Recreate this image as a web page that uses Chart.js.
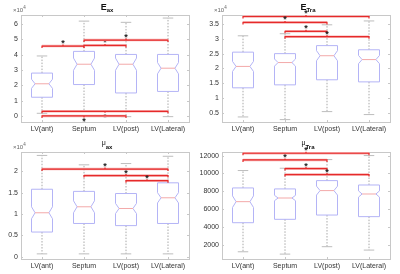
<!DOCTYPE html>
<html>
<head>
<meta charset="utf-8">
<script src="https://cdn.jsdelivr.net/npm/chart.js@4"></script>
<style>
  html, body { margin: 0; padding: 0; background: #fff; }
  #wrap { position: relative; width: 400px; height: 274px; }
  .cell { position: absolute; width: 200px; height: 137px; }
</style>
</head>
<body>
<div id="wrap">
  <div class="cell" style="left:0;top:0"><canvas id="c1" width="200" height="137"></canvas></div>
  <div class="cell" style="left:200px;top:0"><canvas id="c2" width="200" height="137"></canvas></div>
  <div class="cell" style="left:0;top:137px"><canvas id="c3" width="200" height="137"></canvas></div>
  <div class="cell" style="left:200px;top:137px"><canvas id="c4" width="200" height="137"></canvas></div>
</div>
<script>
const groups = ['LV(ant)', 'Septum', 'LV(post)', 'LV(Lateral)'];

/* ---- E_ax (x10^4) ---- */
const eaxLow   = [0.17, 0.35, -0.05, -0.05];
const eaxQ1    = [1.22, 2.05, 1.50, 1.60];
const eaxMed   = [2.10, 3.38, 3.38, 3.12];
const eaxQ3    = [2.80, 4.22, 4.02, 4.02];
const eaxHigh  = [3.92, 6.20, 6.12, 6.40];
const eaxNotch = [0.30, 0.40, 0.40, 0.37];
const eaxTicks = [0, 1, 2, 3, 4, 5, 6];
// [from, to, y, star side]
const eaxSig = [[0, 1, 4.57, 1], [1, 2, 4.61, 1], [1, 3, 4.96, 1], [0, 3, 0.30, -1], [0, 2, 0.0, -1]];

/* ---- E_Tra (x10^4) ---- */
const etrLow   = [0.37, 0.28, 0.55, 0.45];
const etrQ1    = [1.35, 1.45, 1.62, 1.55];
const etrMed   = [2.07, 2.20, 2.43, 2.30];
const etrQ3    = [2.55, 2.50, 2.77, 2.63];
const etrHigh  = [3.10, 3.17, 3.47, 3.60];
const etrNotch = [0.17, 0.12, 0.17, 0.14];
const etrTicks = [0.5, 1, 1.5, 2, 2.5, 3, 3.5];
const etrSig = [[0, 3, 3.75, 1], [0, 2, 3.55, 1], [1, 2, 3.25, 1], [1, 3, 3.07, 1]];

/* ---- mu_ax (x10^4) ---- */
const muaLow   = [0.07, 0.07, 0.07, 0.07];
const muaQ1    = [0.58, 0.78, 0.73, 0.78];
const muaMed   = [1.03, 1.17, 1.13, 1.38];
const muaQ3    = [1.58, 1.53, 1.48, 1.73];
const muaHigh  = [2.37, 2.15, 2.18, 2.35];
const muaNotch = [0.14, 0.14, 0.12, 0.12];
const muaTicks = [0, 0.5, 1, 1.5, 2];
const muaSig = [[0, 3, 2.05, 1], [1, 3, 1.90, 1], [2, 3, 1.78, 1]];

/* ---- mu_Tra ---- */
const mutLow   = [1210, 950, 1780, 1400];
const mutQ1    = [4470, 4850, 5330, 5150];
const mutMed   = [6830, 7240, 8070, 7690];
const mutQ3    = [8370, 8260, 9190, 8700];
const mutHigh  = [10320, 10580, 11550, 12000];
const mutNotch = [650, 300, 500, 350];
const mutTicks = [2000, 4000, 6000, 8000, 10000, 12000];
const mutSig = [[0, 3, 12260, 1], [0, 2, 11510, 1], [1, 2, 10540, 1], [1, 3, 9870, 1]];

const FONT = "'Liberation Sans', Arial, sans-serif";

/* draws frame, inward ticks, notched boxes, brackets, title */
const boxPlugin = {
  id: 'boxes',
  afterDraw(chart) {
    const o = chart.options.plugins.boxes;
    const ctx = chart.ctx;
    const x = chart.scales.x, y = chart.scales.y;
    const a = chart.chartArea;
    ctx.save();

    // frame + inward ticks
    ctx.strokeStyle = '#c8c8c8';
    ctx.lineWidth = 1;
    ctx.strokeRect(Math.round(a.left) + 0.5, Math.round(a.top) + 0.5, Math.round(a.right - a.left), Math.round(a.bottom - a.top));
    ctx.beginPath();
    y.ticks.forEach(t => {
      const py = Math.round(y.getPixelForValue(t.value)) + 0.5;
      ctx.moveTo(a.left, py); ctx.lineTo(a.left + 2, py);
      ctx.moveTo(a.right, py); ctx.lineTo(a.right - 2, py);
    });
    x.ticks.forEach(t => {
      const px = Math.round(x.getPixelForValue(t.value)) + 0.5;
      ctx.moveTo(px, a.bottom); ctx.lineTo(px, a.bottom - 2);
      ctx.moveTo(px, a.top); ctx.lineTo(px, a.top + 2);
    });
    ctx.stroke();

    // boxes
    for (let i = 0; i < groups.length; i++) {
      const xc = x.getPixelForValue(i + 1);
      const hw = x.getPixelForValue(i + 1.25) - xc;
      const nw = hw * 0.66;
      const q1 = y.getPixelForValue(o.q1[i]), q3 = y.getPixelForValue(o.q3[i]);
      const md = y.getPixelForValue(o.med[i]);
      const nt = y.getPixelForValue(o.med[i] + o.notch[i]);
      const nb = y.getPixelForValue(o.med[i] - o.notch[i]);
      const hi = y.getPixelForValue(o.high[i]), lo = y.getPixelForValue(o.low[i]);

      // whiskers
      ctx.strokeStyle = '#a8a8a8';
      ctx.setLineDash([1.5, 1.5]);
      ctx.beginPath();
      ctx.moveTo(xc, q3); ctx.lineTo(xc, hi);
      ctx.moveTo(xc, q1); ctx.lineTo(xc, lo);
      ctx.stroke();
      ctx.setLineDash([]);
      ctx.strokeStyle = '#bdbdbd';
      ctx.beginPath();
      ctx.moveTo(xc - hw / 2, hi); ctx.lineTo(xc + hw / 2, hi);
      ctx.moveTo(xc - hw / 2, lo); ctx.lineTo(xc + hw / 2, lo);
      ctx.stroke();

      // notched box
      ctx.strokeStyle = '#b4b4f6';
      ctx.beginPath();
      ctx.moveTo(xc - hw, q3); ctx.lineTo(xc + hw, q3);
      ctx.lineTo(xc + hw, nt); ctx.lineTo(xc + nw, md); ctx.lineTo(xc + hw, nb);
      ctx.lineTo(xc + hw, q1); ctx.lineTo(xc - hw, q1);
      ctx.lineTo(xc - hw, nb); ctx.lineTo(xc - nw, md); ctx.lineTo(xc - hw, nt);
      ctx.closePath();
      ctx.stroke();

      // median
      ctx.strokeStyle = '#f3a9a9';
      ctx.beginPath();
      ctx.moveTo(xc - nw, md); ctx.lineTo(xc + nw, md);
      ctx.stroke();
    }

    // significance brackets
    o.sig.forEach(s => {
      const x1 = x.getPixelForValue(s[0] + 1), x2 = x.getPixelForValue(s[1] + 1);
      const py = y.getPixelForValue(s[2]);
      const xm = x.getPixelForValue((s[0] + s[1]) / 2 + 1);
      ctx.strokeStyle = '#f7b0b0';
      ctx.lineWidth = 2.5;
      ctx.beginPath();
      ctx.moveTo(x1, py); ctx.lineTo(x2, py);
      ctx.stroke();
      ctx.strokeStyle = '#e62a2a';
      ctx.lineWidth = 1.2;
      ctx.beginPath();
      ctx.moveTo(x1, py + 2); ctx.lineTo(x1, py); ctx.lineTo(x2, py); ctx.lineTo(x2, py + 2);
      ctx.moveTo(xm, py); ctx.lineTo(xm, py - 1.5 * s[3]);
      ctx.stroke();
      ctx.fillStyle = '#222';
      ctx.font = 'bold 9px ' + FONT;
      ctx.textAlign = 'center';
      ctx.textBaseline = 'middle';
      ctx.fillText('*', xm, s[3] > 0 ? py - 2.5 : py + 6);
    });

    // title with subscript
    const cx = (a.left + a.right) / 2 + 2;
    const by = a.top - 5;
    ctx.fillStyle = '#111';
    ctx.textBaseline = 'alphabetic';
    ctx.textAlign = 'left';
    ctx.font = o.mainFont;
    const w1 = ctx.measureText(o.main).width;
    ctx.font = 'bold 6px ' + FONT;
    const w2 = ctx.measureText(o.sub).width;
    const x0 = cx - (w1 + w2) / 2;
    ctx.font = o.mainFont;
    ctx.fillText(o.main, x0, by + o.mainShift);
    ctx.font = 'bold 6px ' + FONT;
    ctx.fillText(o.sub, x0 + w1, by + 2);

    // exponent label
    if (o.exp) {
      ctx.fillStyle = '#666';
      ctx.font = '6px ' + FONT;
      ctx.fillText('\u00d710', a.left - 8, a.top - 3);
      const we = ctx.measureText('\u00d710').width;
      ctx.font = '4.5px ' + FONT;
      ctx.fillText('4', a.left - 8 + we, a.top - 6);
    }
    ctx.restore();
  }
};

function makeChart(id, yMin, yMax, ticks, yWidth, padRight, box) {
  return new Chart(document.getElementById(id), {
    type: 'scatter',
    data: { datasets: [] },
    plugins: [boxPlugin],
    options: {
      responsive: false,
      animation: false,
      layout: { padding: { left: 0, right: padRight, top: 15, bottom: 0 } },
      plugins: { legend: { display: false }, tooltip: { enabled: false }, boxes: box },
      scales: {
        x: {
          type: 'linear', min: 0.5, max: 4.5,
          grid: { display: false, drawTicks: false, tickLength: 0 },
          border: { display: false },
          afterBuildTicks: s => { s.ticks = groups.map((g, i) => ({ value: i + 1 })); },
          afterFit: s => { s.height = 15; },
          ticks: {
            padding: 3, color: '#333', maxRotation: 0, autoSkip: false,
            font: { family: FONT, size: 7 },
            callback: v => groups[v - 1]
          }
        },
        y: {
          min: yMin, max: yMax,
          grid: { display: false, drawTicks: false, tickLength: 0 },
          border: { display: false },
          afterBuildTicks: s => { s.ticks = ticks.map(v => ({ value: v })); },
          afterFit: s => { s.width = yWidth; },
          ticks: {
            padding: 3, color: '#333',
            font: { family: FONT, size: 7 },
            callback: v => String(v)
          }
        }
      }
    }
  });
}

makeChart('c1', -0.4, 6.6, eaxTicks, 21, 11, {
  low: eaxLow, q1: eaxQ1, med: eaxMed, q3: eaxQ3, high: eaxHigh, notch: eaxNotch, sig: eaxSig,
  main: 'E', sub: 'ax', mainFont: 'bold 9px ' + FONT, mainShift: 0, exp: true
});
makeChart('c2', 0.2, 3.8, etrTicks, 22, 10, {
  low: etrLow, q1: etrQ1, med: etrMed, q3: etrQ3, high: etrHigh, notch: etrNotch, sig: etrSig,
  main: 'E', sub: 'Tra', mainFont: 'bold 9px ' + FONT, mainShift: 0, exp: true
});
makeChart('c3', -0.05, 2.45, muaTicks, 21, 11, {
  low: muaLow, q1: muaQ1, med: muaMed, q3: muaQ3, high: muaHigh, notch: muaNotch, sig: muaSig,
  main: '\u03bc', sub: 'ax', mainFont: '7px ' + FONT, mainShift: -2, exp: true
});
makeChart('c4', 400, 12400, mutTicks, 22, 10, {
  low: mutLow, q1: mutQ1, med: mutMed, q3: mutQ3, high: mutHigh, notch: mutNotch, sig: mutSig,
  main: '\u03bc', sub: 'Tra', mainFont: '7px ' + FONT, mainShift: -2, exp: false
});
</script>
</body>
</html>
